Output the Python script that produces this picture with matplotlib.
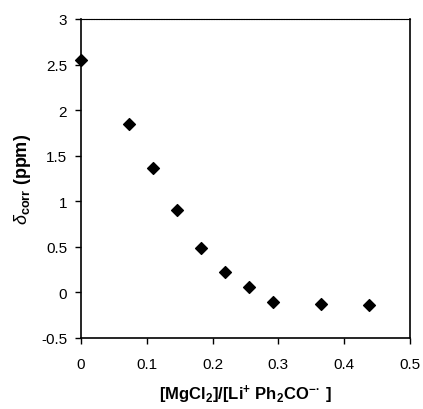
import matplotlib
matplotlib.use("Agg")
import matplotlib.pyplot as plt

plt.rcParams['font.family'] = ['Liberation Sans', 'DejaVu Sans']
plt.rcParams['mathtext.fontset'] = 'custom'
plt.rcParams['mathtext.rm'] = 'Liberation Sans'
plt.rcParams['mathtext.bf'] = 'Liberation Sans:bold'
plt.rcParams['mathtext.it'] = 'Liberation Sans:italic'

ratio = [0.0, 0.073, 0.109, 0.146, 0.182, 0.219, 0.255, 0.292, 0.365, 0.438]
delta = [2.55, 1.85, 1.37, 0.905, 0.49, 0.228, 0.057, -0.105, -0.125, -0.135]
xticks = [0, 0.1, 0.2, 0.3, 0.4, 0.5]
yticks = [-0.5, 0, 0.5, 1, 1.5, 2, 2.5, 3]

fig = plt.figure(figsize=(4.23, 4.10), dpi=100)
ax = fig.add_axes([81/423, 1-339/410, 329/423, 319/410])
ax.scatter(ratio, delta, marker='D', s=36, color='black', zorder=3, clip_on=False)
ax.set_xlim(0, 0.5)
ax.set_ylim(-0.5, 3)
ax.set_xticks(xticks)
ax.set_xticklabels([f"{t:g}" for t in xticks])
ax.set_yticks(yticks)
ax.set_yticklabels([f"{t:g}" for t in yticks])
ax.tick_params(direction='out', length=4, width=1, labelsize=11, pad=6)
ax.tick_params(axis='x', pad=10)
for s in ax.spines.values():
    s.set_linewidth(1.2)
ax.spines['top'].set_linewidth(0.8)
ax.spines['top'].set_linestyle((0, (1, 0.5)))

ax.set_xlabel(r'[MgCl$_{\mathbf{2}}$]/[Li$^{\mathbf{+}}$ Ph$_{\mathbf{2}}$CO$^{\mathbf{-\!\bullet}}$ ]',
              fontsize=12, fontweight='bold', labelpad=8)
ax.set_ylabel(r'$\delta_{\mathbf{corr}}$ (ppm)', fontsize=13, fontweight='bold', labelpad=6)

fig.savefig('out.png', dpi=100, facecolor='white')
